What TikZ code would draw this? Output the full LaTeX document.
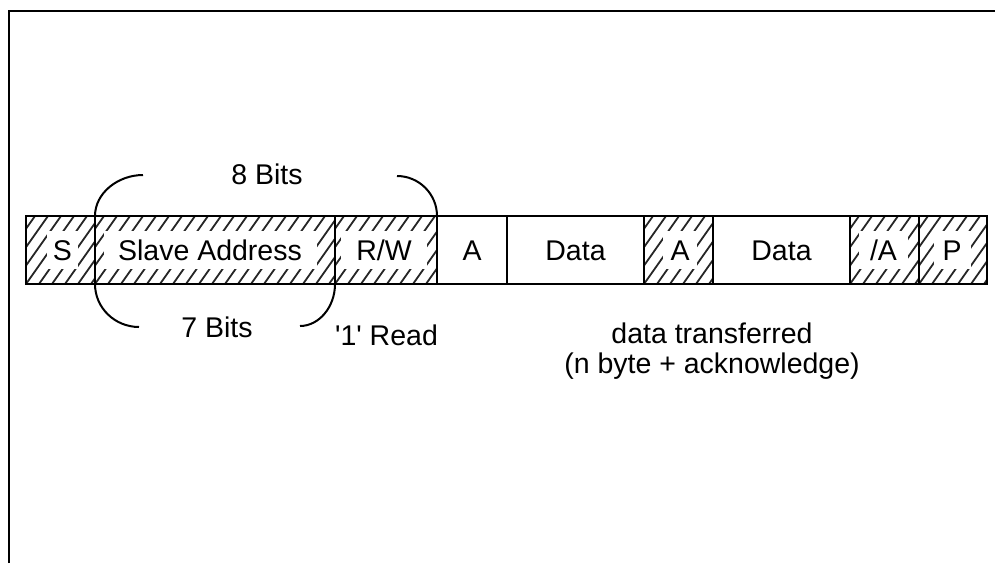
\documentclass[tikz,border=0pt]{standalone}
\usepackage{fontspec}
\setmainfont{Liberation Sans}
\newcommand{\framefont}{\fontsize{28.5}{30}\selectfont}
\begin{document}
\begin{tikzpicture}[x=1pt, y=-1pt,
  field/.style={draw, line width=2pt, minimum height=68pt, inner sep=0pt,
    outer sep=0pt, font=\framefont, text height=20.5pt, text depth=0pt},
  hatched/.style={path picture={
    \foreach \i in {-65,-52,...,260}{
      \draw[line width=1.8pt, black!85]
        ([xshift=\i pt]path picture bounding box.south west) -- ++(48pt,68pt);}}},
  lbl/.style={fill=white, inner sep=0pt, minimum height=38pt,
    text height=20.5pt, text depth=0pt, font=\framefont},
  bracket/.style={line width=2pt},
  caption/.style={font=\framefont, inner sep=0pt, anchor=base}]
\useasboundingbox (0,0) rectangle (995,563);

% open frame: left and top edges
\draw[line width=2.2pt] (9,563) -- (9,11) -- (995,11);

% fields of the read frame
\node[field, hatched, minimum width=69pt]  (s)  at (60.5,250)  {};
\node[field, hatched, minimum width=240pt] (sa) at (215,250)   {};
\node[field, hatched, minimum width=102pt] (rw) at (386,250)   {};
\node[field, minimum width=70pt]           (a1) at (472,250)   {A};
\node[field, minimum width=137pt]          (d1) at (575.5,250) {Data};
\node[field, hatched, minimum width=69pt]  (a2) at (678.5,250) {};
\node[field, minimum width=137pt]          (d2) at (781.5,250) {Data};
\node[field, hatched, minimum width=69pt]  (na) at (884.5,250) {};
\node[field, hatched, minimum width=68pt]  (p)  at (953,250)   {};

% labels on the hatched fields
\node[lbl, minimum width=31pt]  (sT)  at (62.5,250)  {S};
\node[lbl, minimum width=213pt] (saT) at (210,250)   {Slave Address};
\node[lbl, minimum width=86pt]  (rwT) at (384,250)   {R/W};
\node[lbl, minimum width=34pt]  (a2T) at (680,250)   {A};
\node[lbl, minimum width=49pt]  (naT) at (883.5,250) {/A};
\node[lbl, minimum width=37pt]  (pT)  at (952,250)   {P};

% bracket ends
\coordinate (b8l) at (143,175);
\coordinate (b8r) at (397,176);
\coordinate (b7l) at (139,327);
\coordinate (b7r) at (300,326);

% 8-bit bracket above, 7-bit bracket below
\draw[bracket] (sa.north west) .. controls +(0,-23) and +(-25,0) .. (b8l);
\draw[bracket] (b8r) .. controls +(22,0) and +(0,-22) .. (rw.north east);
\draw[bracket] (sa.south west) .. controls +(0,24) and +(-24,0) .. (b7l);
\draw[bracket] (sa.south east) .. controls +(0,23) and +(19,0) .. (b7r);

% captions
\node[caption] (t8) at (267,184)   {8 Bits};
\node[caption] (t7) at (217,337.5) {7 Bits};
\node[caption] (t1) at (386.5,345) {\textquotesingle 1\textquotesingle{} Read};
\node[font=\framefont, inner sep=0pt, anchor=north, align=center] (td)
  at (712,322.5) {data transferred\\(n byte + acknowledge)};
\end{tikzpicture}
\end{document}
